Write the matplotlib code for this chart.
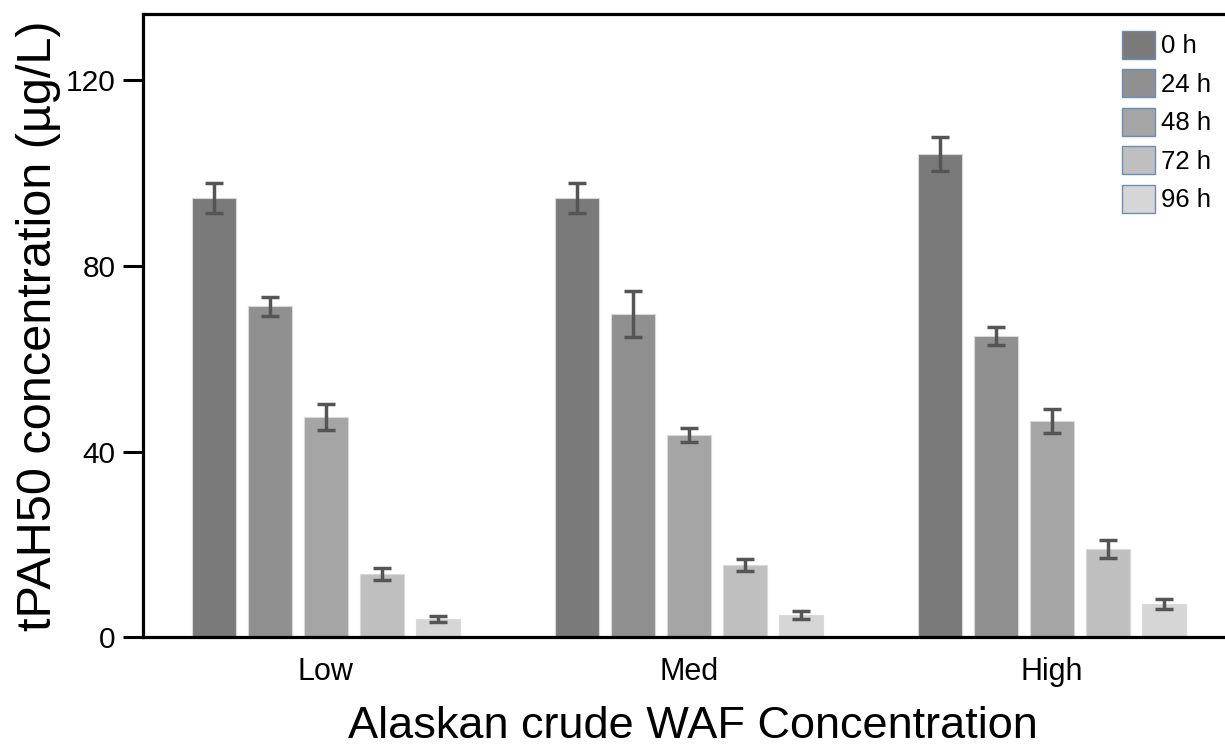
import matplotlib
matplotlib.use("Agg")
import matplotlib.pyplot as plt
import numpy as np
from matplotlib.patches import Patch

plt.rcParams['font.family'] = ['Liberation Sans', 'DejaVu Sans']

categories = ["Low", "Med", "High"]
series = ["0 h", "24 h", "48 h", "72 h", "96 h"]
values = {
    "0 h":  [94.6, 94.6, 104.1],
    "24 h": [71.3, 69.6, 64.9],
    "48 h": [47.4, 43.5, 46.6],
    "72 h": [13.6, 15.5, 19.0],
    "96 h": [3.9, 4.7, 7.1],
}
errors = {
    "0 h":  [3.2, 3.2, 3.7],
    "24 h": [2.0, 5.0, 2.0],
    "48 h": [2.8, 1.5, 2.6],
    "72 h": [1.3, 1.3, 2.0],
    "96 h": [0.6, 0.9, 1.1],
}
colors = ["#7a7a7a", "#909090", "#a5a5a5", "#bfbfbf", "#d6d6d6"]
yticks = [0, 40, 80, 120]

fig = plt.figure(figsize=(12.25, 7.54), dpi=100)
ax = fig.add_axes([0.1167, 0.155, 0.8833, 0.8264])

x = np.arange(len(categories))
step = 0.154
width = 0.121
for i, s in enumerate(series):
    pos = x + (i - 2) * step
    ax.bar(pos, values[s], width=width, color=colors[i], edgecolor="#d9d9d9", linewidth=0.8, zorder=2)
    ax.errorbar(pos, values[s], yerr=errors[s], fmt="none", ecolor="#555555",
                elinewidth=2.5, capsize=6.5, capthick=2.5, zorder=3)

ax.set_xlim(-0.504, 2.477)
ax.set_ylim(0, 134.3)
ax.set_yticks(yticks)
ax.set_xticks(x)
ax.set_xticklabels(categories)
ax.tick_params(axis='y', labelsize=21.5, length=14.5, width=2.2, pad=5)
ax.tick_params(axis='x', labelsize=22, length=0, pad=14)

for sp in ["left", "top", "bottom"]:
    ax.spines[sp].set_linewidth(2.3)
ax.spines["right"].set_visible(False)

ax.set_ylabel("tPAH50 concentration (µg/L)", fontsize=35, labelpad=4)
ax.set_xlabel("Alaskan crude WAF Concentration", fontsize=32.5, labelpad=14)
ax.xaxis.label.set_x(0.508)

handles = [Patch(facecolor=c, edgecolor="#6b8cb5", linewidth=1.0, label=s) for c, s in zip(colors, series)]
fig.legend(handles=handles, loc="upper left", bbox_to_anchor=(1122/1225, 1 - 31/754),
           bbox_transform=fig.transFigure, frameon=False,
           fontsize=18.5, handlelength=1.28, handleheight=1.28, labelspacing=0.42,
           handletextpad=0.25, borderpad=0, borderaxespad=0)

fig.savefig("out.png", dpi=100)
